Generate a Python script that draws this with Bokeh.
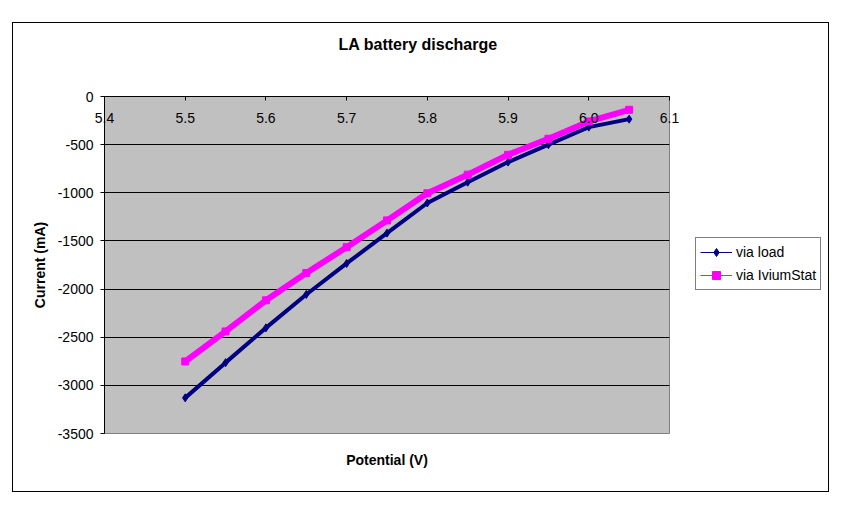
from bokeh.plotting import figure
from bokeh.layouts import row
from bokeh.models import (Range1d, LinearAxis, FixedTicker, NumeralTickFormatter,
                          Legend, LegendItem)
from bokeh.embed import file_html
from bokeh.resources import INLINE

# ---------------- data ----------------
title_text = "LA battery discharge"
x_label = "Potential (V)"
y_label = "Current (mA)"
series_names = ["via load", "via IviumStat"]

x_ticks = [5.4, 5.5, 5.6, 5.7, 5.8, 5.9, 6.0, 6.1]
y_ticks = [-3500, -3000, -2500, -2000, -1500, -1000, -500, 0]

potential = [5.50, 5.55, 5.60, 5.65, 5.70, 5.75, 5.80, 5.85, 5.90, 5.95, 6.00, 6.05]
via_load = [-3130, -2764, -2403, -2056, -1734, -1419, -1106, -890, -681, -500, -318, -235]
via_ivium = [-2752, -2440, -2117, -1833, -1565, -1287, -1005, -812, -605, -439, -259, -138]

FONT = "Liberation Sans"
NAVY = "#000080"
MAGENTA = "#FF00FF"

# ---------------- main chart ----------------
p = figure(width=676, height=468, output_backend="svg", toolbar_location=None,
           title=None,
           x_range=Range1d(5.4, 6.1), y_range=Range1d(-3500, 0),
           x_axis_location="above", y_axis_location="left",
           min_border_left=91, min_border_right=20,
           min_border_top=73, min_border_bottom=58,
           background_fill_color="#C0C0C0", border_fill_color="white",
           outline_line_color="#808080", outline_line_width=1)

# y axis
ya = p.yaxis[0]
ya.ticker = FixedTicker(ticks=y_ticks)
ya.formatter = NumeralTickFormatter(format="0")
ya.axis_label = y_label
ya.axis_label_text_font = FONT
ya.axis_label_text_font_size = "14px"
ya.axis_label_text_font_style = "bold"
ya.axis_label_text_color = "black"
ya.axis_label_standoff = 7
ya.major_label_text_font = FONT
ya.major_label_text_font_size = "14px"
ya.major_label_text_color = "black"
ya.major_label_standoff = 7
ya.major_tick_out = 4
ya.major_tick_in = 0
ya.minor_tick_line_color = None
ya.axis_line_color = "black"
ya.major_tick_line_color = "black"

# x axis along y = 0 (top of the plot area), labels hanging below the line
xa = p.xaxis[0]
xa.ticker = FixedTicker(ticks=x_ticks)
xa.formatter = NumeralTickFormatter(format="0.0")
xa.major_label_text_font = FONT
xa.major_label_text_font_size = "14px"
xa.major_label_text_color = "black"
xa.major_label_standoff = -26
xa.major_tick_out = 0
xa.major_tick_in = 4
xa.minor_tick_line_color = None
xa.axis_line_color = "black"
xa.major_tick_line_color = "black"

# chart title, carried by a tick-less axis above the plot area
# (leading no-break spaces shift it to the centre of the whole chart)
tt = LinearAxis(ticker=FixedTicker(ticks=[]), axis_label="\u00a0" * 14 + title_text,
                axis_label_text_font=FONT, axis_label_text_font_size="16px",
                axis_label_text_font_style="bold", axis_label_text_color="black",
                axis_label_standoff=44, axis_line_color=None,
                major_tick_line_color=None, minor_tick_line_color=None,
                major_tick_out=0, major_tick_in=0, major_label_standoff=0)
p.add_layout(tt, "above")

# x axis title (tick-less axis below the plot area)
xt = LinearAxis(ticker=FixedTicker(ticks=[]), axis_label=x_label,
                axis_label_text_font=FONT, axis_label_text_font_size="14px",
                axis_label_text_font_style="bold", axis_label_text_color="black",
                axis_label_standoff=18, axis_line_color=None,
                major_tick_line_color=None, minor_tick_line_color=None,
                major_tick_out=0, major_tick_in=0, major_label_standoff=0)
p.add_layout(xt, "below")

# grid
p.ygrid.ticker = FixedTicker(ticks=y_ticks)
p.ygrid.grid_line_color = "black"
p.ygrid.grid_line_width = 1
p.xgrid.visible = False

# series
p.line(potential, via_load, line_color=NAVY, line_width=4)
p.scatter(potential, via_load, marker="diamond", size=8, color=NAVY)
p.line(potential, via_ivium, line_color=MAGENTA, line_width=6)
p.scatter(potential, via_ivium, marker="square", size=7, color=MAGENTA)

# ---------------- legend panel ----------------
lg = figure(width=139, height=468, output_backend="svg", toolbar_location=None,
            title=None, x_range=Range1d(0, 1), y_range=Range1d(0, 1),
            x_axis_location=None, y_axis_location=None,
            min_border_left=0, min_border_right=0,
            min_border_top=73, min_border_bottom=58,
            background_fill_color="white", border_fill_color="white",
            outline_line_color=None)
lg.grid.visible = False

# legend glyph sources (the same series, outside this panel's ranges)
lp1 = lg.line(potential, via_load, line_color=NAVY, line_width=1)
mp1 = lg.scatter(potential, via_load, marker="diamond", size=7, color=NAVY)
lp2 = lg.line(potential, via_ivium, line_color=MAGENTA, line_width=1)
mp2 = lg.scatter(potential, via_ivium, marker="square", size=6, color=MAGENTA)

legend = Legend(items=[LegendItem(label=series_names[0], renderers=[lp1, mp1]),
                       LegendItem(label=series_names[1], renderers=[lp2, mp2])],
                location=(6, 143), padding=4, spacing=3, margin=0,
                glyph_width=32, glyph_height=20, label_height=20, label_standoff=4,
                label_text_font=FONT, label_text_font_size="14px",
                label_text_color="black",
                border_line_color="black", border_line_width=1,
                background_fill_color="white", background_fill_alpha=1)
lg.add_layout(legend, "center")

layout = row(p, lg, spacing=0, margin=(22, 0, 0, 12),
             styles={"border": "1px solid #000000"})

open("out.html", "w").write(file_html(layout, INLINE))
